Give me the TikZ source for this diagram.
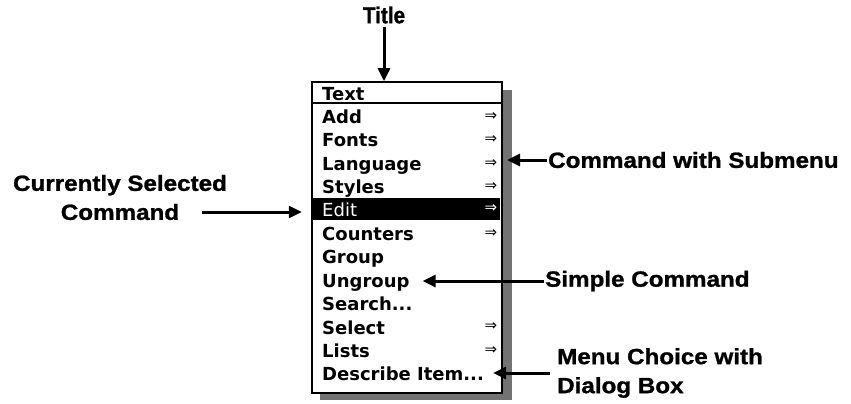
\documentclass[tikz,border=0pt]{standalone}
\usepackage{fontspec}
\newfontfamily\lblfont[FakeStretch=1.1,FakeBold=1.2]{Liberation Sans}
\newfontfamily\titlefont[FakeStretch=0.9,FakeBold=1.2]{Liberation Sans}
\newfontfamily\menufont{DejaVu Sans}
\usetikzlibrary{arrows.meta}

\tikzset{
  lbl/.style={font=\lblfont\bfseries\fontsize{22}{29}\selectfont, inner sep=1pt},
  item/.style={anchor=base west, inner sep=0pt, font=\menufont\bfseries\fontsize{18}{20}\selectfont},
  sub/.style={inner sep=0pt, font=\menufont\fontsize{15}{16}\selectfont},
  arr/.style={line width=3pt, -{Triangle[length=13pt,width=12pt]}},
}

\begin{document}
\begin{tikzpicture}[x=1pt,y=-1pt]
        \useasboundingbox (0,0) rectangle (851,404);

        %% Shadow of the menu
        \fill [black!55] (502,90) rectangle (512,400);
        \fill [black!55] (320,393) rectangle (512,400);

        %% The menu box and its title bar
        \node (menu) [draw, line width=1.5pt, fill=white, inner sep=0pt,
                      minimum width=190pt, minimum height=311pt] at (407,237.5) {};
        \draw [line width=1.5pt] (menu.west |- 0,103) -- (menu.east |- 0,103);
        \node (editbar) [fill=black, inner sep=0pt, minimum width=187pt,
                         minimum height=22pt] at (406.5,208.5) {};

        %% Menu entries
        \node [item] (t-text) at (322,100) {Text};
        \node [item] (t-add) at (322,123.4) {Add};
        \node [item] (t-fonts) at (322,146.8) {Fonts};
        \node [item] (t-lang) at (322,170.2) {Language};
        \node [item] (t-styles) at (322,193.6) {Styles};
        \node [item, text=white, font=\menufont\fontsize{18}{20}\selectfont] (t-edit) at (322,216) {Edit};
        \node [item] (t-counters) at (322,240.4) {Counters};
        \node [item] (t-group) at (322,263.8) {Group};
        \node [item] (t-ungroup) at (322,287.2) {Ungroup};
        \node [item] (t-search) at (322,310.6) {Search...};
        \node [item] (t-select) at (322,334) {Select};
        \node [item] (t-lists) at (322,357.4) {Lists};
        \node [item] (t-describe) at (322,380.8) {Describe Item...};

        %% Submenu marks
        \node [sub] (s-add) at (491,116.4) {⇒};
        \node [sub] (s-fonts) at (491,139.8) {⇒};
        \node [sub] (s-lang) at (491,163.2) {⇒};
        \node [sub] (s-styles) at (491,186.6) {⇒};
        \node [sub, text=white] (s-edit) at (491,209) {⇒};
        \node [sub] (s-counters) at (491,233.4) {⇒};
        \node [sub] (s-select) at (491,327) {⇒};
        \node [sub] (s-lists) at (491,350.4) {⇒};

        %% Labels
        \node [lbl, font=\titlefont\bfseries\fontsize{23}{26}\selectfont] (title) at (384,15) {Title};
        \node [lbl, align=center] (selected) at (120,197.5) {Currently Selected\\Command};
        \node [lbl, anchor=west] (submenu) at (547,160) {Command with Submenu};
        \node [lbl, anchor=west] (simple) at (544,281) {Simple Command};
        \node [lbl, anchor=west, align=left] (dialog) at (556,373) {Menu Choice with\\Dialog Box};

        %% Arrows
        \coordinate (sel-from) at (202,212);
        \coordinate (sub-tip) at (507,161);
        \draw [arr, shorten <=2pt] (title.south) -- (title.south |- menu.north);
        \draw [arr, shorten >=11pt] (sel-from) -- (sel-from -| editbar.west);
        \draw [arr] (submenu.west) -- (submenu.west -| sub-tip);
        \draw [arr, shorten >=13pt] (simple.west) -- (simple.west -| t-ungroup.east);
        \draw [arr, shorten <=6pt, shorten >=9pt] (dialog.west) -- (dialog.west -| t-describe.east);
\end{tikzpicture}
\end{document}
